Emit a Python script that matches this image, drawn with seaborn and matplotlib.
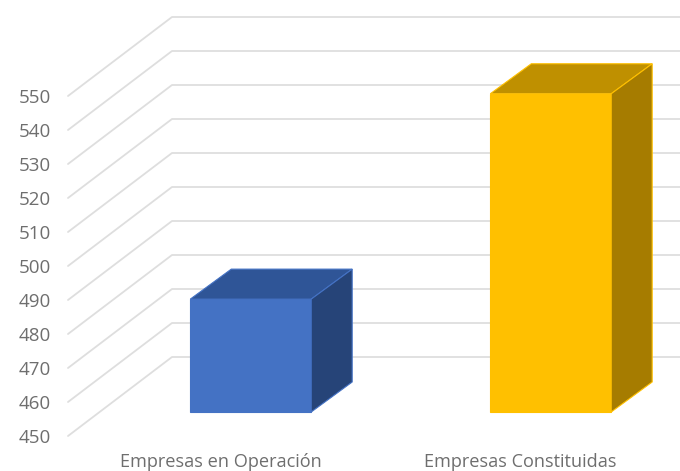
import matplotlib
matplotlib.use("Agg")
import matplotlib.pyplot as plt
import pandas as pd
import seaborn as sns

CATEGORIES = ["Empresas en Operación", "Empresas Constituidas"]
VALUES = [483.2, 543.6]
Y_TICKS = [450, 460, 470, 480, 490, 500, 510, 520, 530, 540, 550]

FRONT_COLORS = ["#4472C4", "#FFC000"]
TOP_COLORS = ["#2F5597", "#BF9000"]
SIDE_COLORS = ["#264478", "#A67C00"]
GRID_COLOR = "#DEDEDE"
TEXT_COLOR = "#6E6E6E"

WIDTH_PX = 680
HEIGHT_PX = 471
PX_PER_CATEGORY = 300.0
PX_PER_VALUE = 3.4

# axes box in image pixels, the value axis sits on the front edge of the wall
AXES_LEFT = 68
AXES_BOTTOM = 436
AXES_TOP = 16
FIRST_BAR_CENTER = 250.75

WALL_DX = 104 / PX_PER_CATEGORY
WALL_DY = 79 / PX_PER_VALUE
DEPTH_DX = 41 / PX_PER_CATEGORY
DEPTH_DY = 30 / PX_PER_VALUE
BAR_LIFT = 24 / PX_PER_VALUE
# labels sit on the front of the floor, left of the bars
LABEL_SHIFT = 30 / PX_PER_CATEGORY

sns.set_theme(style="white")
plt.rcParams["font.family"] = ["Open Sans", "DejaVu Sans"]

df = pd.DataFrame({"categoria": CATEGORIES, "valor": VALUES})

fig = plt.figure(figsize=(WIDTH_PX / 100, HEIGHT_PX / 100), dpi=100)
ax = fig.add_axes([
    AXES_LEFT / WIDTH_PX,
    (HEIGHT_PX - AXES_BOTTOM) / HEIGHT_PX,
    (WIDTH_PX - AXES_LEFT) / WIDTH_PX,
    (AXES_BOTTOM - AXES_TOP) / HEIGHT_PX,
])

sns.barplot(data=df, x="categoria", y="valor", width=0.403, ax=ax, zorder=3)

x_min = -(FIRST_BAR_CENTER - AXES_LEFT) / PX_PER_CATEGORY
x_max = (WIDTH_PX - FIRST_BAR_CENTER) / PX_PER_CATEGORY
y_min = Y_TICKS[0]
y_max = Y_TICKS[0] + (AXES_BOTTOM - AXES_TOP) / PX_PER_VALUE

# wall and back gridlines
for tick in Y_TICKS:
    ax.plot(
        [x_min, x_min + WALL_DX, x_max],
        [tick, tick + WALL_DY, tick + WALL_DY],
        color=GRID_COLOR, lw=1.3, zorder=1, clip_on=False,
    )

# front face comes from seaborn, top and side are built on its corners
for bar, value, front, top, side in zip(ax.patches, VALUES, FRONT_COLORS, TOP_COLORS, SIDE_COLORS):
    bar.set_y(Y_TICKS[0] + BAR_LIFT)
    bar.set_height(value - Y_TICKS[0])
    bar.set_facecolor(front)
    bar.set_edgecolor(front)
    bar.set_linewidth(0.8)

    x0 = bar.get_x()
    x1 = x0 + bar.get_width()
    y0 = bar.get_y()
    y1 = y0 + bar.get_height()
    ax.fill(
        [x0, x1, x1 + DEPTH_DX, x0 + DEPTH_DX],
        [y1, y1, y1 + DEPTH_DY, y1 + DEPTH_DY],
        facecolor=top, edgecolor=front, lw=0.8, zorder=3,
    )
    ax.fill(
        [x1, x1 + DEPTH_DX, x1 + DEPTH_DX, x1],
        [y0, y0 + DEPTH_DY, y1 + DEPTH_DY, y1],
        facecolor=side, edgecolor=front, lw=0.8, zorder=3,
    )

ax.set_xlim(x_min, x_max)
ax.set_ylim(y_min, y_max)
ax.set_yticks(Y_TICKS)
ax.set_xticks([i - LABEL_SHIFT for i in range(len(CATEGORIES))])
ax.set_xticklabels(CATEGORIES)
ax.set_xlabel("")
ax.set_ylabel("")
ax.tick_params(axis="y", length=0, pad=12.5, labelsize=13.5, labelcolor=TEXT_COLOR)
ax.tick_params(axis="x", length=0, pad=12.5, labelsize=13.1, labelcolor=TEXT_COLOR)
sns.despine(ax=ax, left=True, bottom=True)

fig.savefig("out.png", dpi=100)
plt.close(fig)
